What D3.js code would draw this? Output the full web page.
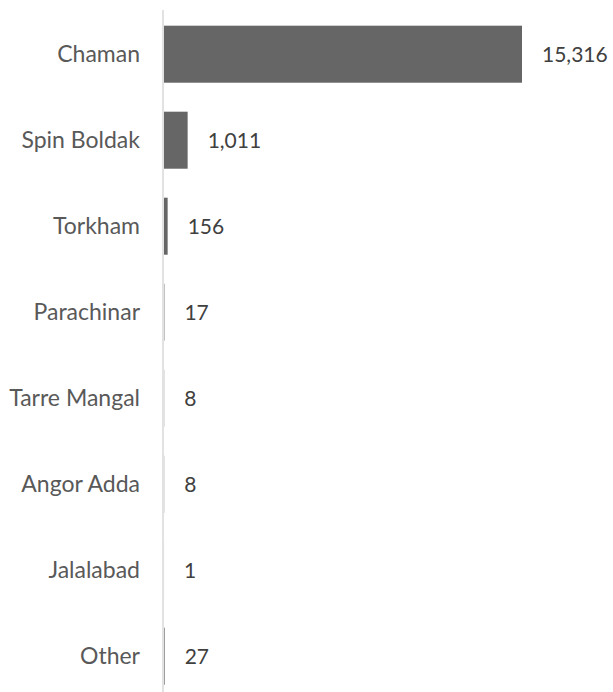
<!DOCTYPE html>
<html><head><meta charset="utf-8">
<script src="https://cdn.jsdelivr.net/npm/d3@7"></script>
<style>body{margin:0;background:#fff}</style>
</head><body>
<script>
const categories = ["Chaman","Spin Boldak","Torkham","Parachinar","Tarre Mangal","Angor Adda","Jalalabad","Other"];
const values = [15316,1011,156,17,8,8,1,27];

const W=613,H=692;
const svg=d3.select("body").append("svg").attr("width",W).attr("height",H);
const x=d3.scaleLinear().domain([0,15316]).range([164,522]);
const y=d3.scaleBand().domain(categories).range([11.2,699.2]).paddingInner(0.337).paddingOuter(0.1685);
const fmt=d3.format(",");
const font="Lato, 'Open Sans', sans-serif";

svg.selectAll("rect.bar").data(values).join("rect").attr("class","bar")
  .attr("x",x(0)).attr("y",(d,i)=>y(categories[i]))
  .attr("width",d=>Math.max(0,x(d)-x(0))).attr("height",y.bandwidth())
  .attr("fill","#666666");

svg.append("line").attr("x1",163).attr("x2",163).attr("y1",10).attr("y2",H)
  .attr("stroke","#d9d9d9").attr("stroke-width",1.5);

svg.selectAll("text.cat").data(categories).join("text").attr("class","cat")
  .attr("x",140).attr("y",d=>y(d)+y.bandwidth()/2).attr("dy","0.35em")
  .attr("text-anchor","end").attr("font-family",font).attr("font-size",23).attr("fill","#595959")
  .text(d=>d);

svg.selectAll("text.val").data(values).join("text").attr("class","val")
  .attr("x",d=>x(d)+20).attr("y",(d,i)=>y(categories[i])+y.bandwidth()/2).attr("dy","0.35em")
  .attr("font-family",font).attr("font-size",21).attr("fill","#404040")
  .text(d=>fmt(d));
</script>
</body></html>
